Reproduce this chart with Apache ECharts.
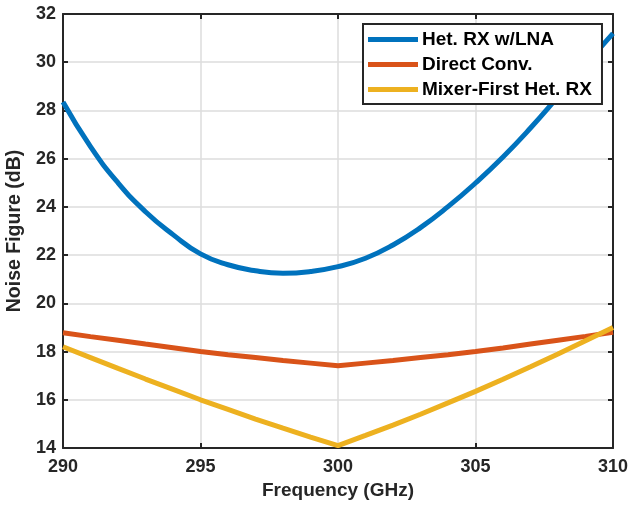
<!DOCTYPE html>
<html>
<head>
<meta charset="utf-8">
<script src="https://cdn.jsdelivr.net/npm/echarts@6/dist/echarts.min.js"></script>
<style>html,body{margin:0;padding:0;background:#fff}#c{width:631px;height:508px}</style>
</head>
<body>
<div id="c"></div>
<script>
const freqs = [290,291,292,293,294,295,296,297,298,299,300,301,302,303,304,305,306,307,308,309,310];
const hetLna = [28.35,26.5,25.0,23.8,22.85,22.05,21.6,21.35,21.25,21.32,21.52,21.87,22.42,23.14,24.01,24.99,26.07,27.27,28.57,29.9,31.2];
const directConv = [18.78,18.62,18.47,18.31,18.16,18.0,17.87,17.75,17.63,17.52,17.41,17.52,17.63,17.75,17.87,18.0,18.15,18.31,18.47,18.63,18.8];
const mixerFirst = [18.2,17.75,17.3,16.86,16.43,16.0,15.6,15.2,14.82,14.45,14.1,14.52,14.95,15.4,15.87,16.35,16.85,17.37,17.9,18.45,19.0];
const seriesNames = ['Het. RX w/LNA','Direct Conv.','Mixer-First Het. RX'];
const colors = ['#0072BD','#D95319','#EDB120'];

const pair = arr => freqs.map((f,i)=>[f,arr[i]]);
const font = '"Liberation Sans", Arial, sans-serif';
const axisColor = '#262626';

const chart = echarts.init(document.getElementById('c'), null, {renderer:'canvas'});
const baseX = {
  type:'value', min:290, max:310, interval:5,
  axisLine:{show:true, onZero:false, lineStyle:{color:axisColor, width:2}},
  axisTick:{show:true, inside:true, length:5, lineStyle:{color:axisColor, width:2}},
  splitLine:{show:false}
};
const baseY = {
  type:'value', min:14, max:32, interval:2,
  axisLine:{show:true, onZero:false, lineStyle:{color:axisColor, width:2}},
  axisTick:{show:true, inside:true, length:5, lineStyle:{color:axisColor, width:2}},
  splitLine:{show:false}
};
chart.setOption({
  animation:false,
  backgroundColor:'#fff',
  grid:{left:63, right:18, top:14, bottom:60, containLabel:false, outerBoundsMode:'none'},
  legend:{
    orient:'vertical', left:363, top:24,
    data:seriesNames,
    icon:'rect', itemWidth:50, itemHeight:5, itemGap:6,
    padding:[6,10,5,5],
    backgroundColor:'#fff', borderColor:axisColor, borderWidth:2, borderRadius:0,
    textStyle:{fontFamily:font, fontWeight:'bold', fontSize:19, color:'#000', lineHeight:19, padding:[0,0,0,-1]}
  },
  xAxis:[
    Object.assign({}, baseX, {
      position:'bottom',
      name:'Frequency (GHz)', nameLocation:'middle', nameGap:33,
      nameTextStyle:{fontFamily:font, fontWeight:'bold', fontSize:19, color:axisColor},
      axisLabel:{fontFamily:font, fontWeight:'bold', fontSize:18, color:axisColor, margin:10},
      splitLine:{show:true, lineStyle:{color:'#dcdcdc', width:1.5}}
    }),
    Object.assign({}, baseX, {position:'top', axisLabel:{show:false}})
  ],
  yAxis:[
    Object.assign({}, baseY, {
      position:'left',
      name:'Noise Figure (dB)', nameLocation:'middle', nameGap:35,
      nameTextStyle:{fontFamily:font, fontWeight:'bold', fontSize:19.5, color:axisColor},
      axisLabel:{fontFamily:font, fontWeight:'bold', fontSize:18, color:axisColor, margin:7},
      splitLine:{show:true, lineStyle:{color:'#dcdcdc', width:1.5}}
    }),
    Object.assign({}, baseY, {position:'right', axisLabel:{show:false}})
  ],
  series:[
    {name:seriesNames[0], type:'line', data:pair(hetLna), smooth:true, showSymbol:false, lineStyle:{color:colors[0], width:5}, itemStyle:{color:colors[0]}},
    {name:seriesNames[1], type:'line', data:pair(directConv), smooth:false, showSymbol:false, lineStyle:{color:colors[1], width:5}, itemStyle:{color:colors[1]}},
    {name:seriesNames[2], type:'line', data:pair(mixerFirst), smooth:false, showSymbol:false, lineStyle:{color:colors[2], width:5}, itemStyle:{color:colors[2]}}
  ]
});
</script>
</body>
</html>
